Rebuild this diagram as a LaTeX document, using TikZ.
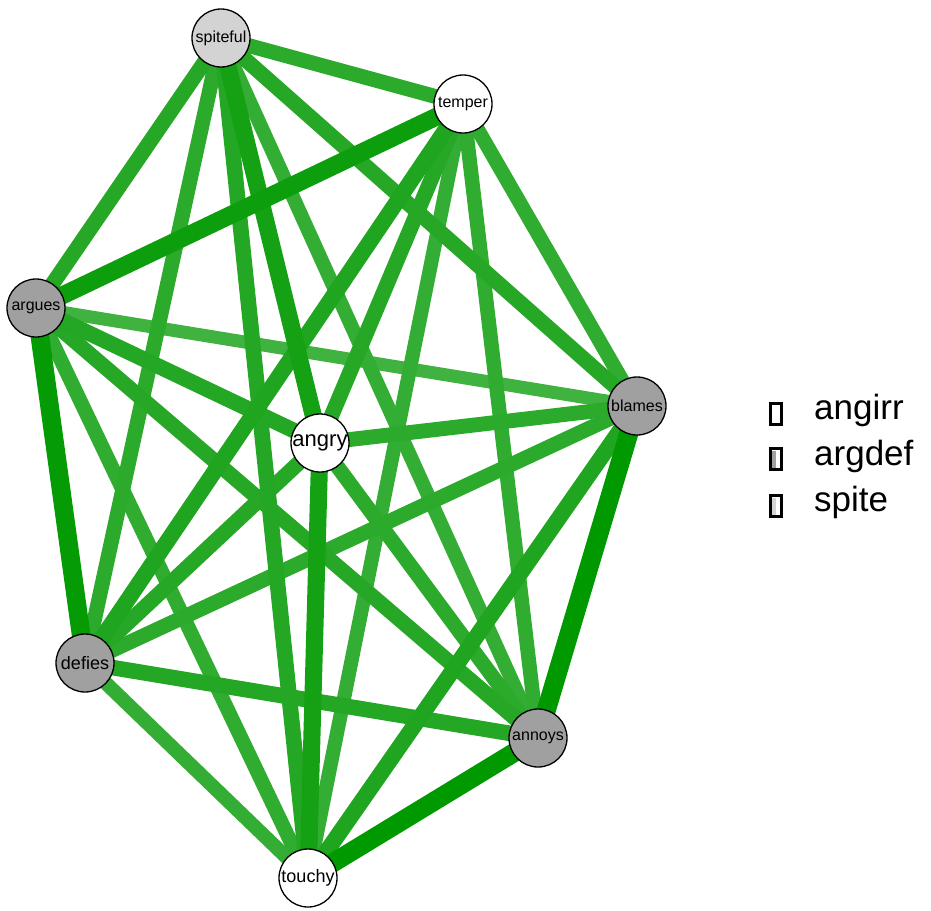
\documentclass[tikz,border=0pt]{standalone}
\usepackage{fontspec}
\setmainfont{Liberation Sans}
\definecolor{eg}{RGB}{0,153,0}
\definecolor{ngray}{RGB}{160,160,160}
\definecolor{nlight}{RGB}{211,211,211}
\pgfdeclarelayer{bg}
\pgfsetlayers{bg,main}
\newcommand\ed[3]{%
  \pgfmathsetmacro\ew{11.5+7.5*#3}%
  \pgfmathtruncatemacro\ep{70+30*#3}%
  \draw[edgeline, line width=\ew pt, draw=eg!\ep!white] (#1.center) -- (#2.center);}
\tikzset{
  vert/.style={circle, draw=black, line width=1.3pt, minimum size=58pt, inner sep=0pt},
  edgeline/.style={line cap=butt},
  legbox/.style={draw=black, line width=3.2pt, minimum width=11pt, minimum height=21pt, inner sep=0pt},
  legtext/.style={anchor=west, inner sep=0pt, font=\fontsize{35}{35}\selectfont}
}
\begin{document}
\begin{tikzpicture}[x=1pt,y=-1pt]
\useasboundingbox (0,0) rectangle (931,910);
% nodes
\node[vert, fill=nlight] (S) at (221,38) {\fontsize{16}{16}\selectfont spiteful};
\node[vert, fill=white] (T) at (463,104) {\fontsize{16}{16}\selectfont temper};
\node[vert, fill=ngray] (Ar) at (36,308) {\fontsize{16}{16}\selectfont argues};
\node[vert, fill=ngray] (B) at (637,406) {\fontsize{16}{16}\selectfont blames};
\node[vert, fill=white] (An) at (320,443) {\fontsize{22}{22}\selectfont angry};
\node[vert, fill=ngray] (D) at (85,663) {\fontsize{18}{18}\selectfont defies};
\node[vert, fill=ngray] (Ay) at (538,738) {\fontsize{16}{16}\selectfont annoys};
\node[vert, fill=white] (To) at (308,878) {\fontsize{18}{18}\selectfont touchy};
% edges
\begin{pgfonlayer}{bg}
\ed{Ar}{B}{0.2}
\ed{S}{Ay}{0.35}
\ed{T}{To}{0.35}
\ed{D}{To}{0.35}
\ed{T}{Ay}{0.4}
\ed{T}{B}{0.4}
\ed{Ar}{To}{0.4}
\ed{S}{T}{0.45}
\ed{S}{D}{0.45}
\ed{B}{An}{0.45}
\ed{B}{D}{0.45}
\ed{An}{Ay}{0.45}
\ed{S}{Ar}{0.5}
\ed{S}{B}{0.5}
\ed{T}{An}{0.5}
\ed{Ar}{Ay}{0.5}
\ed{An}{D}{0.5}
\ed{S}{To}{0.55}
\ed{Ar}{An}{0.55}
\ed{D}{Ay}{0.55}
\ed{T}{D}{0.6}
\ed{B}{To}{0.6}
\ed{S}{An}{0.75}
\ed{An}{To}{0.75}
\ed{T}{Ar}{0.85}
\ed{Ar}{D}{0.95}
\ed{B}{Ay}{1}
\ed{Ay}{To}{1}
\end{pgfonlayer}
% legend
\node[legbox, fill=white] (L1) at (776,414) {};
\node[legbox, fill=white] (L2) at (776,459) {};
\fill[ngray] (772,450.5) rectangle (776,467.5);
\node[legbox, fill=white] (L3) at (776,506) {};
\fill[nlight] (772,497.5) rectangle (776,514.5);
\node[legtext] (T1) at (814,410) {angirr};
\node[legtext] (T2) at (814,456) {argdef};
\node[legtext] (T3) at (814,502) {spite};
\end{tikzpicture}
\end{document}
